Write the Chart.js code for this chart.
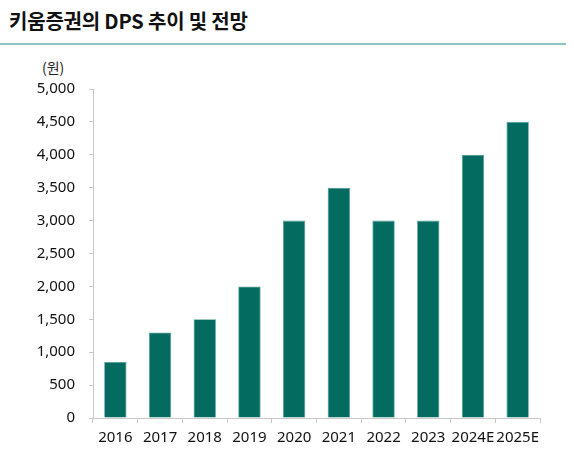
<!DOCTYPE html>
<html><head><meta charset="utf-8">
<script src="https://cdn.jsdelivr.net/npm/chart.js@4"></script>
<style>
html,body{margin:0;padding:0;background:#fff;width:574px;height:459px;overflow:hidden;}
#title{position:absolute;left:9px;top:7px;font-family:"Noto Sans CJK KR","Noto Sans",sans-serif;font-weight:700;font-size:20px;color:#111;letter-spacing:-0.2px;line-height:28px;}
#rule{position:absolute;left:0;top:43px;width:566px;height:2px;background:#8cc3c0;}
#unit{position:absolute;left:42px;top:57px;font-family:"Noto Sans CJK KR",sans-serif;font-size:14px;color:#222;line-height:20px;}
#wrap{position:absolute;left:0;top:0;width:574px;height:459px;}
</style></head>
<body>
<div id="title">키움증권의 DPS 추이 및 전망</div>
<div id="rule"></div>
<div id="unit">(원)</div>
<div id="wrap"><canvas id="c"></canvas></div>
<script>
const categories = ["2016","2017","2018","2019","2020","2021","2022","2023","2024E","2025E"];
const dps = [850,1300,1500,2000,3000,3500,3000,3000,4000,4500];
const yTicks = [0,500,1000,1500,2000,2500,3000,3500,4000,4500,5000];

new Chart(document.getElementById('c'), {
  type: 'bar',
  data: {
    labels: categories,
    datasets: [{
      data: dps,
      backgroundColor: '#036b5f',
      borderColor: '#4f9e94',
      borderWidth: 0.8,
      barPercentage: 0.5,
      categoryPercentage: 1.0
    }]
  },
  options: {
    responsive: true,
    maintainAspectRatio: false,
    animation: false,
    layout: { padding: { top: 89, right: 34, left: 10, bottom: 6 } },
    plugins: { legend: { display: false }, tooltip: { enabled: false } },
    scales: {
      x: {
        grid: { display: true, drawOnChartArea: false, offset: true, tickLength: 5, color: '#c8c8c8' },
        border: { color: '#c8c8c8' },
        ticks: { color: '#111', font: { family: '"Noto Sans","Open Sans",sans-serif', size: 15 }, padding: 6, maxRotation: 0, autoSkip: false }
      },
      y: {
        min: 0, max: 5000,
        afterBuildTicks: (axis) => { axis.ticks = yTicks.map(v => ({ value: v })); },
        grid: { display: true, drawOnChartArea: false, tickLength: 4, color: '#c8c8c8' },
        border: { color: '#c8c8c8' },
        ticks: { color: '#111', font: { family: '"Noto Sans","Open Sans",sans-serif', size: 15 }, padding: 14,
          callback: (v) => v.toLocaleString('en-US') },
        afterFit: (axis) => { axis.width = 83; }
      }
    }
  }
});
</script>
</body></html>
